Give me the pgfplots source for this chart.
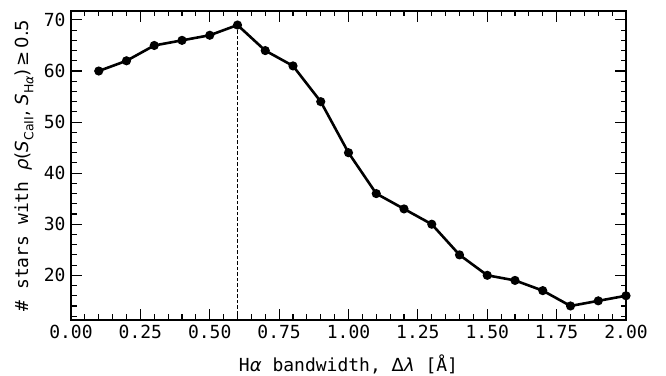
\documentclass[border=0pt]{standalone}
\usepackage{fontspec}
\setmainfont{DejaVu Sans Mono}
\newfontfamily\dv{DejaVu Sans}
\usepackage{pgfplots}
\pgfplotsset{compat=1.18}

% italic symbol and small roman subscript in DejaVu Sans
\newcommand{\mi}[1]{{\dv\itshape #1}}
\newcommand{\mr}[1]{{\dv #1}}
\newcommand{\sub}[1]{\raisebox{-0.28em}{\fontsize{12.5bp}{13bp}\selectfont #1}}

\pgfplotstableread{
bw   n
0.1  60
0.2  62
0.3  65
0.4  66
0.5  67
0.6  69
0.7  64
0.8  61
0.9  54
1.0  44
1.1  36
1.2  33
1.3  30
1.4  24
1.5  20
1.6  19
1.7  17
1.8  14
1.9  15
2.0  16
}\counts

\begin{document}
\begin{tikzpicture}
\useasboundingbox (0,0) rectangle (666bp,376bp);
\begin{axis}[
  at={(71bp,56bp)}, anchor=south west,
  scale only axis,
  width=555bp, height=309bp,
  xmin=0, xmax=2.0,
  ymin=11.25, ymax=71.75,
  xtick={0,0.25,...,2.0},
  minor xtick={0,0.05,...,2.0},
  ytick={20,30,...,70},
  minor ytick={12,14,...,70},
  tick align=inside,
  xtick pos=both, ytick pos=both,
  major tick length=11bp,
  minor tick length=5.5bp,
  every tick/.style={black, line width=1.1bp},
  axis line style={black, line width=1.7bp},
  font=\fontsize{18bp}{20bp}\selectfont,
  /pgf/number format/assume math mode=true,
  xticklabel style={/pgf/number format/.cd, fixed, fixed zerofill, precision=2, /tikz/.cd, yshift=-2bp},
  yticklabel style={xshift=-2bp},
  xlabel={H\mi{α} bandwidth, \mr{Δ}\mi{λ} [Å]},
  xlabel style={at={(axis description cs:0.5,0)}, anchor=base, yshift=-51bp},
  ylabel={\# stars with \mi{ρ}\mr{(}\mi{S}\sub{\mr{CaII}}\mr{, }\mi{S}\sub{\mr{H}\mi{α}}\mr{)}\,\mr{≥}\,\mr{0.5}},
  ylabel style={at={(axis description cs:-0.0847,0.5)}, anchor=center, rotate=0},
  clip=false,
]
\addplot[black, line width=1bp, dash pattern=on 3.5bp off 2bp]
  coordinates {(0.6,11.25) (0.6,69)};
\addplot[black, line width=2.6bp, mark=*, mark size=3.2bp, mark options={solid}]
  table[x=bw, y=n] {\counts};
\end{axis}
\end{tikzpicture}
\end{document}
